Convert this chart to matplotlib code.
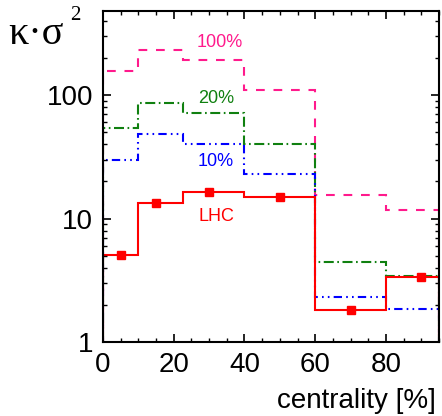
import numpy as np
import matplotlib.pyplot as plt
from matplotlib.ticker import MultipleLocator, LogLocator, NullFormatter, FixedLocator

plt.rcParams['font.family'] = ['Liberation Sans', 'DejaVu Sans']

# centrality bin edges [%]
edges = [0, 10, 22.5, 40, 60, 80, 95]
centres = [5, 15, 30, 50, 70, 90]

lhc = [5.1, 13.3, 16.3, 15.0, 1.82, 3.38]
frac100 = [157, 234, 192, 111, 15.5, 11.7]
frac20 = [54.3, 86.1, 71.9, 40.1, 4.42, 3.44]
frac10 = [29.8, 48.3, 40.1, 22.8, 2.33, 1.84]

fig = plt.figure(figsize=(4.42, 4.16), dpi=100)
ax = fig.add_axes([103/442, 1 - 342/416, 336/442, 331/416])

ax.stairs(frac100, edges, color='#ff1a8c', lw=1.5, ls=(0, (4.2, 4.2)))
ax.stairs(frac20, edges, color='#108010', lw=1.5, ls=(0, (4.8, 1.7, 0.8, 1.7)))
ax.stairs(frac10, edges, color='#0000ff', lw=1.5, ls=(0, (4, 2, 0.8, 2, 0.8, 2)))
ax.stairs(lhc, edges, color='#ff0000', lw=1.5)
ax.plot(centres, lhc, 's', color='#ff0000', ms=6)

# curve labels: (text, colour, x, y)
labels = [('100%', '#ff1a8c', 33, 265), ('20%', '#108010', 32, 94),
          ('10%', '#0000ff', 32, 28.8), ('LHC', '#ff0000', 32, 10.4)]
for lab, col, lx, ly in labels:
    ax.text(lx, ly, lab, color=col, fontsize=13, ha='center', va='center')

ax.set_yscale('log')
ax.set_xlim(0, 95)
ax.set_ylim(1, 480)

ax.xaxis.set_major_locator(MultipleLocator(20))
ax.xaxis.set_minor_locator(MultipleLocator(5))
ax.yaxis.set_major_locator(FixedLocator([1, 10, 100]))
ax.yaxis.set_minor_locator(LogLocator(base=10, subs=np.arange(2, 10), numticks=10))
ax.yaxis.set_minor_formatter(NullFormatter())
ax.set_yticklabels(['1', '10', '100'])

ax.tick_params(which='both', direction='in', top=True, right=True, labelsize=20)
ax.tick_params(which='major', length=6, width=1.2, pad=7)
ax.tick_params(which='minor', length=3, width=1.0)
for s in ax.spines.values():
    s.set_linewidth(1.5)

fig.text(8/442, 1 - 35/416, 'κ·σ', fontsize=29, ha='left', va='center',
         family=['Liberation Serif', 'DejaVu Serif'])
fig.text(70/442, 1 - 15/416, '2', fontsize=15, ha='left', va='center',
         family=['Liberation Serif', 'DejaVu Serif'])
fig.text(436/442, 1 - 401/416, 'centrality [%]', fontsize=20, ha='right', va='center')

fig.savefig('out.png', dpi=100)
